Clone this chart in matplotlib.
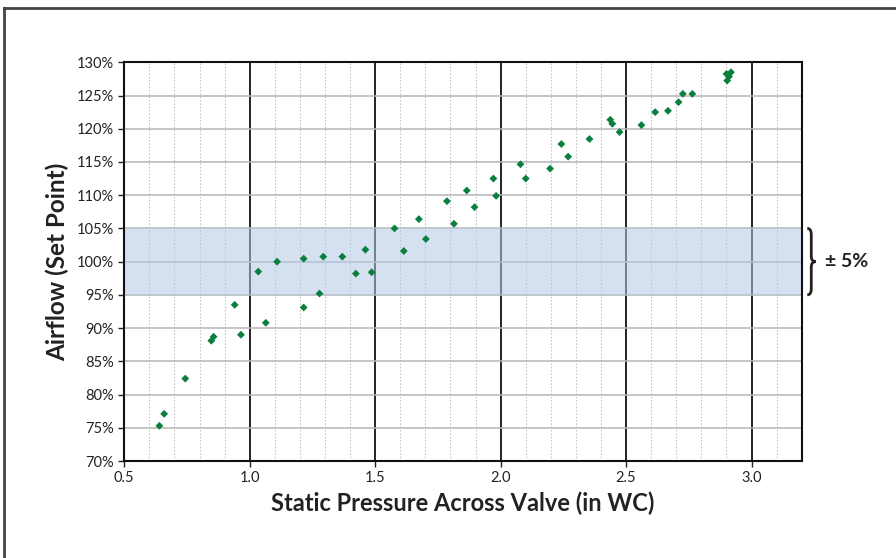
import matplotlib
matplotlib.use('Agg')
import matplotlib.pyplot as plt
from matplotlib.path import Path
from matplotlib.patches import PathPatch
from matplotlib.lines import Line2D
import numpy as np

plt.rcParams['font.family'] = ['Lato', 'DejaVu Sans']

# static pressure (in WC) and airflow (% of set point)
pressure = [0.64, 0.659, 0.743, 0.847, 0.856, 0.940, 0.965, 1.034, 1.064, 1.109,
            1.215, 1.215, 1.278, 1.293, 1.369, 1.423, 1.461, 1.486, 1.577, 1.614,
            1.674, 1.702, 1.786, 1.814, 1.865, 1.896, 1.971, 1.982, 2.079, 2.100,
            2.197, 2.242, 2.269, 2.354, 2.437, 2.445, 2.474, 2.561, 2.616, 2.667,
            2.709, 2.726, 2.764, 2.918, 2.900, 2.903, 2.910]
airflow = [75.3, 77.1, 82.4, 88.1, 88.7, 93.5, 89.0, 98.5, 90.8, 100.0,
           100.45, 93.1, 95.2, 100.75, 100.75, 98.2, 101.8, 98.4, 105.0, 101.6,
           106.4, 103.4, 109.1, 105.7, 110.7, 108.2, 112.5, 109.9, 114.65, 112.5,
           114.0, 117.7, 115.8, 118.45, 121.35, 120.75, 119.5, 120.55, 122.5, 122.7,
           124.0, 125.25, 125.25, 128.5, 128.25, 127.25, 127.85]

x_major = [0.5, 1.0, 1.5, 2.0, 2.5, 3.0]
x_labels = ['0.5', '1.0', '1.5', '2.0', '2.5', '3.0']
y_ticks = [70, 75, 80, 85, 90, 95, 100, 105, 110, 115, 120, 125, 130]
band_low, band_high = 95, 105

fig = plt.figure(figsize=(8.96, 5.58), dpi=100)
ax = fig.add_axes([0.1387, 0.1738, 0.8948 - 0.1387, 0.8884 - 0.1738])

ax.set_xlim(0.5, 3.2)
ax.set_ylim(70, 130)

# grid: dotted minor verticals, black major verticals, gray horizontals
for xm in np.arange(0.6, 3.2, 0.1):
    if abs(xm * 2 - round(xm * 2)) > 1e-6:
        ax.axvline(xm, color='#bbbbbb', lw=0.8, ls=(0, (1.2, 1.8)), zorder=1)
for xm in x_major[1:]:
    ax.axvline(xm, color='#111111', lw=1.3, zorder=1)
for yt in y_ticks[1:-1]:
    ax.axhline(yt, color='#b5b5b5', lw=1.1, zorder=1)

ax.axhspan(band_low, band_high, color=(179/255, 202/255, 230/255), alpha=0.55, lw=0, zorder=2)

ax.scatter(pressure, airflow, marker='D', s=16, color='#0b7f3e', edgecolors='none', zorder=3)

ax.set_xticks(x_major)
ax.set_xticklabels(x_labels)
ax.set_yticks(y_ticks)
ax.set_yticklabels([f'{v}%' for v in y_ticks])
ax.tick_params(axis='both', direction='out', length=4, width=1, colors='#222222', labelsize=10.5)
ax.tick_params(axis='x', pad=3)
for sp in ax.spines.values():
    sp.set_color('#111111')
    sp.set_linewidth(1.5)

ax.set_xlabel('Static Pressure Across Valve (in WC)', fontsize=17, fontweight='bold',
              color='#222222', labelpad=5)
ax.set_ylabel('Airflow (Set Point)', fontsize=17.5, fontweight='bold',
              color='#222222', labelpad=5)

# curly brace marking the +/- 5% band
x0, x1, x2 = 3.222, 3.238, 3.256
ymid = (band_low + band_high) / 2
verts = [(x0, band_high), (x1, band_high), (x1, band_high - 0.9),
         (x1, ymid + 0.8), (x1, ymid), (x2, ymid),
         (x1, ymid), (x1, ymid - 0.8),
         (x1, band_low + 0.9), (x1, band_low), (x0, band_low)]
codes = [Path.MOVETO, Path.CURVE3, Path.CURVE3,
         Path.LINETO, Path.CURVE3, Path.CURVE3,
         Path.CURVE3, Path.CURVE3,
         Path.LINETO, Path.CURVE3, Path.CURVE3]
ax.add_patch(PathPatch(Path(verts, codes), facecolor='none', edgecolor='#222222',
                       lw=2, clip_on=False, zorder=4))
ax.text(3.292, ymid, '± 5%', fontsize=14, fontweight='bold', color='#222222',
        va='center', ha='left', clip_on=False)

# frame visible on the left and top edges of the picture
fig.add_artist(Line2D([0.004, 0.004], [0.0, 0.986], transform=fig.transFigure,
                      color='#444444', lw=2))
fig.add_artist(Line2D([0.004, 1.0], [0.986, 0.986], transform=fig.transFigure,
                      color='#444444', lw=2))

fig.savefig('out.png', dpi=100)
